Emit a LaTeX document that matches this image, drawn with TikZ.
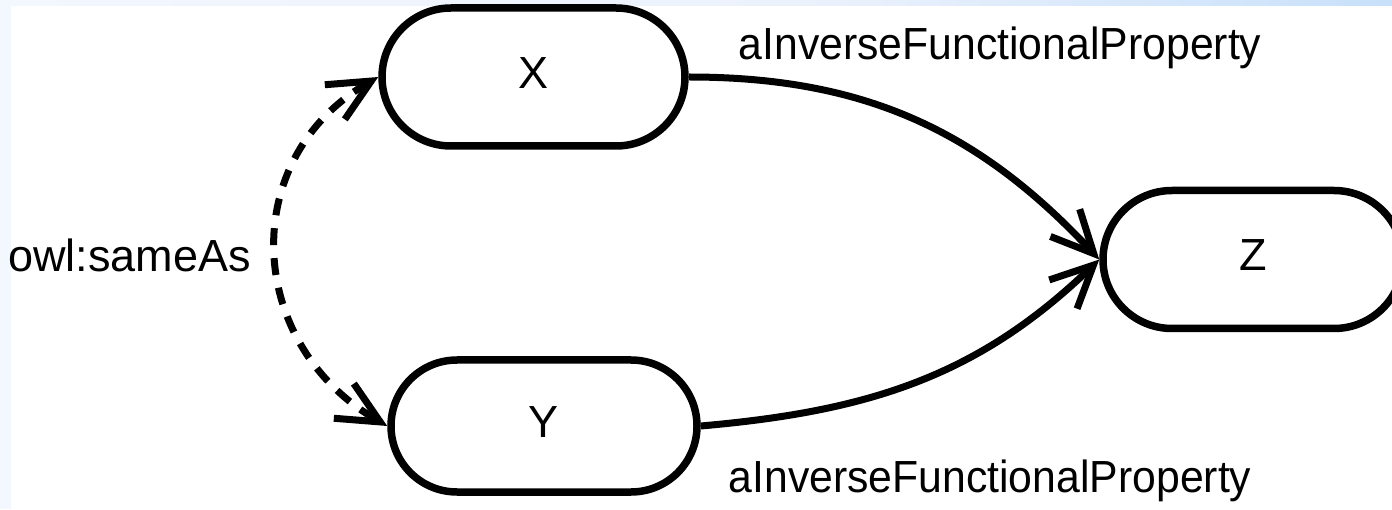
\documentclass[tikz,border=0pt]{standalone}
\usepackage{fontspec}
\setmainfont{Liberation Sans}
\usetikzlibrary{arrows.meta,shapes.misc}
\definecolor{frameL}{HTML}{F3F7FE}
\definecolor{frameM}{HTML}{ECF2FC}
\definecolor{frameR}{HTML}{C8E0FA}
\begin{document}
\begin{tikzpicture}[x=1pt,y=1pt,
  >={Straight Barb[length=42pt,width=40pt]},
  term/.style={rounded rectangle, draw, line width=7.5pt,
    minimum width=303pt, minimum height=138pt, inner sep=0pt,
    font=\fontsize{45}{54}\selectfont, text height=33pt, text depth=10pt},
  lbl/.style={inner sep=0pt, font=\fontsize{45}{54}\selectfont},
  rel/.style={line width=7pt, ->},
  same/.style={line width=7pt, dash pattern=on 17pt off 13pt, <->}]
  \useasboundingbox (0,0) rectangle (1392,509);
  \clip (0,0) rectangle (1392,509);
  % page frame
  \fill[frameL] (0,0) rectangle (11,509);
  \shade[left color=frameL, right color=frameM] (0,503) rectangle (800,509);
  \shade[left color=frameM, right color=frameR] (800,503) rectangle (1392,509);
  % resources
  \node[term] (X) at (533.5,432) {X};
  \node[term, minimum width=306pt, minimum height=132pt] (Y) at (544,83) {Y};
  \node[term, minimum width=300pt] (Z) at (1253,249.5) {Z};
  % properties
  \draw[rel] (X.east) to[out=0, in=133] (Z.west);
  \draw[rel] (Y.east) to[out=5, in=224] (Z.west);
  \draw[same] (X.west) to[out=210, in=150, looseness=1.2] (Y.west);
  % labels
  \node[lbl, anchor=base] (lx) at (1000,449) {\scalebox{0.95}[1]{aInverseFunctionalProperty}};
  \node[lbl, anchor=base] (ly) at (990,17) {\scalebox{0.95}[1]{aInverseFunctionalProperty}};
  \node[lbl, anchor=base west] (ls) at (8,237) {owl:sameAs};
\end{tikzpicture}
\end{document}
